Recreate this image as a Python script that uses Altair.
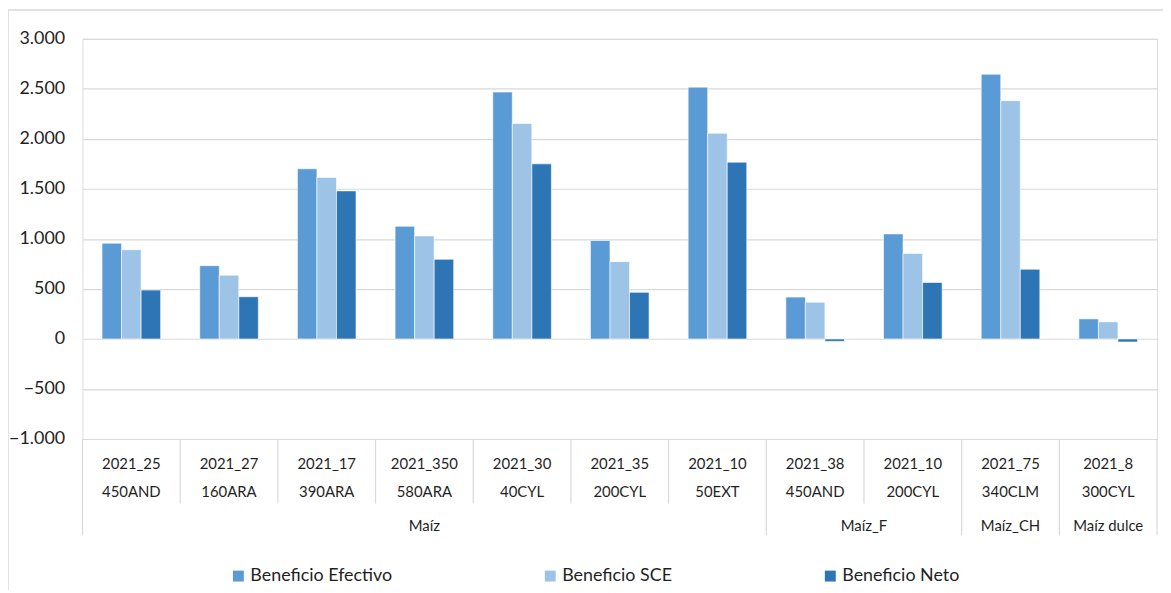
import altair as alt
import pandas as pd

# ---- data ----
code1 = ["2021_25", "2021_27", "2021_17", "2021_350", "2021_30", "2021_35",
         "2021_10", "2021_38", "2021_10", "2021_75", "2021_8"]
code2 = ["450AND", "160ARA", "390ARA", "580ARA", "40CYL", "200CYL",
         "50EXT", "450AND", "200CYL", "340CLM", "300CYL"]
crop = ["Maíz"] * 7 + ["Maíz_F"] * 2 + ["Maíz_CH", "Maíz dulce"]

efectivo = [957, 733, 1701, 1126, 2468, 984, 2517, 419, 1050, 2646, 201]
sce = [892, 637, 1615, 1030, 2154, 773, 2055, 367, 855, 2382, 171]
neto = [489, 422, 1480, 796, 1750, 466, 1767, -24, 565, 697, -30]

series_names = ["Beneficio Efectivo", "Beneficio SCE", "Beneficio Neto"]
series_colors = ["#5B9BD5", "#9DC3E6", "#2E75B6"]
y_ticks = [-1000, -500, 0, 500, 1000, 1500, 2000, 2500, 3000]

# ---- tables ----
keys = [f"{i:02d}" for i in range(len(code1))]
rows = []
for k, a, b, c in zip(keys, efectivo, sce, neto):
    for name, v in zip(series_names, (a, b, c)):
        rows.append({"key": k, "series": name, "value": v})
bars_df = pd.DataFrame(rows)

cats_df = pd.DataFrame({"key": keys, "code1": code1, "code2": code2, "crop": crop})

# group boundaries
group_start = [i == 0 or crop[i] != crop[i - 1] for i in range(len(crop))]
sep_short = cats_df[[not g for g in group_start]]
sep_long = cats_df[group_start]
sep_end = cats_df.iloc[[-1]]

# group label anchors
groups = []
i = 0
while i < len(crop):
    j = i
    while j < len(crop) and crop[j] == crop[i]:
        j += 1
    n = j - i
    groups.append({"key": keys[i + n // 2], "crop": crop[i], "odd": n % 2 == 1})
    i = j
groups_df = pd.DataFrame(groups)

FONT = "Lato"
TXT = "#1f1f1f"
GRID = "#D9D9D9"
W, H = 1082, 403

xscale = alt.Scale(paddingInner=0, paddingOuter=0)


def xenc(band=0.5):
    return alt.X("key:N", sort=keys, scale=xscale, axis=None, bandPosition=band)


bars = alt.Chart(bars_df).mark_bar(stroke="white", strokeWidth=1, strokeOpacity=0.6).encode(
    x=alt.X("key:N", sort=keys, scale=xscale, axis=None),
    xOffset=alt.XOffset("series:N", sort=series_names,
                        scale=alt.Scale(paddingInner=0, paddingOuter=1)),
    y=alt.Y("value:Q",
            scale=alt.Scale(domain=[-1000, 3000], nice=False),
            axis=alt.Axis(values=y_ticks, grid=True, gridColor=GRID, gridWidth=1.2,
                          domain=False, ticks=False, title=None,
                          labelFontSize=18, labelFont=FONT, labelColor=TXT,
                          labelPadding=18,
                          labelExpr="replace(format(datum.value, ','), ',', '.')")),
    color=alt.Color("series:N", sort=series_names,
                    scale=alt.Scale(domain=series_names, range=series_colors),
                    legend=alt.Legend(orient="none", legendX=148, legendY=532,
                                      direction="horizontal", title=None,
                                      symbolType="square", symbolSize=121,
                                      symbolStrokeWidth=0, labelFontSize=18,
                                      labelFont=FONT, labelColor=TXT,
                                      labelOffset=3, columnPadding=150)),
)

row1 = alt.Chart(cats_df).mark_text(fontSize=15, font=FONT, color=TXT, baseline="middle").encode(
    x=xenc(), y=alt.value(428), text="code1:N")
row2 = alt.Chart(cats_df).mark_text(fontSize=15, font=FONT, color=TXT, baseline="middle").encode(
    x=xenc(), y=alt.value(456), text="code2:N")

grp_odd = alt.Chart(groups_df[groups_df["odd"]]).mark_text(
    fontSize=15, font=FONT, color=TXT, baseline="middle").encode(
    x=xenc(0.5), y=alt.value(491), text="crop:N")
grp_even = alt.Chart(groups_df[~groups_df["odd"]]).mark_text(
    fontSize=15, font=FONT, color=TXT, baseline="middle").encode(
    x=xenc(0), y=alt.value(491), text="crop:N")

rule_short = alt.Chart(sep_short).mark_rule(color=GRID, strokeWidth=1.2).encode(
    x=xenc(0), y=alt.value(H), y2=alt.value(468))
rule_long = alt.Chart(sep_long).mark_rule(color=GRID, strokeWidth=1.2).encode(
    x=xenc(0), y=alt.value(H), y2=alt.value(500))
rule_end = alt.Chart(sep_end).mark_rule(color=GRID, strokeWidth=1.2).encode(
    x=xenc(1), y=alt.value(H), y2=alt.value(500))

border_top = alt.Chart(cats_df.iloc[[0]]).mark_rule(color=GRID, strokeWidth=1.5).encode(
    x=alt.value(-75), x2=alt.value(W + 20), y=alt.value(-29))
border_left = alt.Chart(cats_df.iloc[[0]]).mark_rule(color=GRID, strokeWidth=1.5).encode(
    x=alt.value(-75), y=alt.value(-29), y2=alt.value(H + 200))

chart = alt.layer(
    border_top, border_left, bars, rule_short, rule_long, rule_end,
    row1, row2, grp_odd, grp_even,
).properties(
    width=W, height=H,
    autosize=alt.AutoSizeParams(type="none"),
    padding={"left": 75, "top": 29, "right": 6, "bottom": 150},
).configure_view(stroke=None).configure(background="white")

chart.save("out.html", embed_options={"renderer": "svg", "actions": False})
